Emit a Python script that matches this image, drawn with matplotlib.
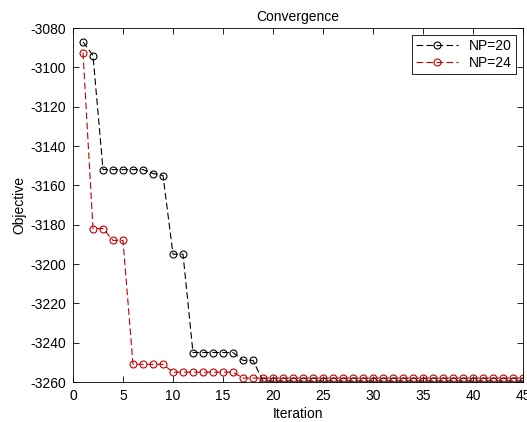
import numpy as np
import matplotlib
matplotlib.use('Agg')
import matplotlib.pyplot as plt

iterations = list(range(1, 46))

# NP=20 best objective per iteration
np20 = [-3087, -3094] + [-3152] * 5 + [-3154, -3155] + [-3195] * 2 + [-3245] * 5 \
    + [-3249] * 2 + [-3259.5] * 27

# NP=24 best objective per iteration
np24 = [-3092.5] + [-3182] * 2 + [-3188] * 2 + [-3251] * 4 + [-3255] * 7 \
    + [-3258] * 29

plt.rcParams['font.family'] = ['Liberation Sans', 'DejaVu Sans']
plt.rcParams['font.size'] = 10
plt.rcParams['axes.unicode_minus'] = False

fig = plt.figure(figsize=(5.27, 4.22), dpi=100)
ax = fig.add_axes([73 / 527, 40 / 422, 450 / 527, 354 / 422])

ax.plot(iterations, np20, 'k--o', mfc='none', ms=5, lw=0.8, mew=0.8, label='NP=20', dashes=(6, 3))
ax.plot(iterations, np24, '--o', color='#c00000', mfc='none', ms=5, lw=0.8, mew=0.8, label='NP=24', dashes=(6, 3))

ax.set_xlim(0, 45)
ax.set_ylim(-3260, -3080)
ax.set_xticks(np.arange(0, 46, 5))
ax.set_yticks(np.arange(-3260, -3079, 20))
ax.tick_params(direction='in', top=True, right=True, length=4, width=0.6, pad=5)
for s in ax.spines.values():
    s.set_linewidth(0.6)

ax.set_title('Convergence', fontsize=10, pad=5)
ax.set_xlabel('Iteration', labelpad=3)
ax.set_ylabel('Objective', labelpad=3)

leg = ax.legend(loc='upper right', fancybox=False, edgecolor='black', framealpha=1,
                handlelength=3, borderaxespad=0.5, fontsize=10, labelspacing=0.2,
                borderpad=0.3)
leg.get_frame().set_linewidth(0.6)

fig.savefig('out.png', dpi=100)
